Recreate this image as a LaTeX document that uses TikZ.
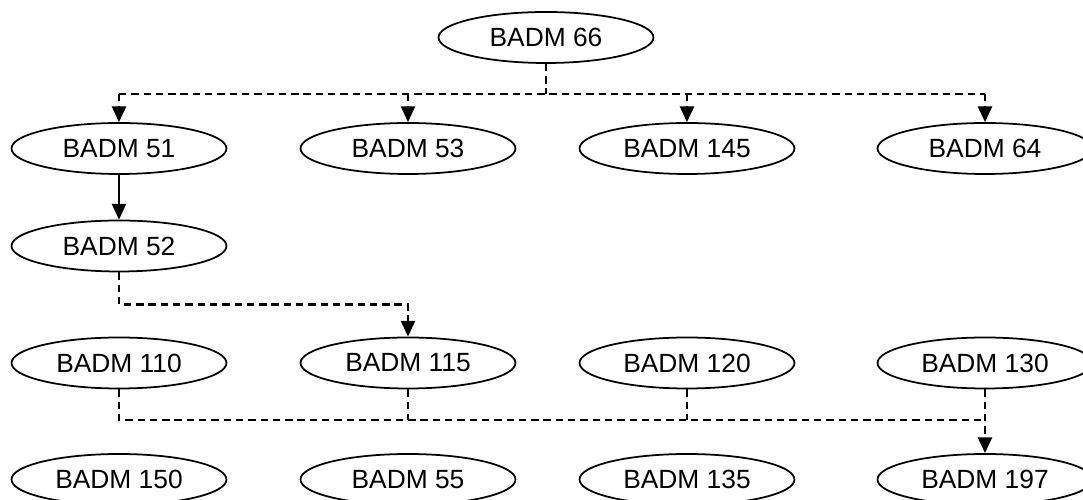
\documentclass[tikz,border=0pt]{standalone}
\usepackage{fontspec}
\setmainfont{Liberation Sans}
\usetikzlibrary{shapes.geometric,arrows.meta}

\begin{document}
\begin{tikzpicture}[x=0.02cm, y=0.02cm,
  course/.style = {draw, ellipse, line width=1pt, minimum width=4.3cm,
    minimum height=1.02cm, inner sep=0pt, font=\fontsize{15}{18}\selectfont},
  dashline/.style = {line width=1.4pt, dash pattern=on 4.2pt off 2.8pt},
  arrowline/.style = {line width=1.3pt, -{Triangle[length=9pt, width=8pt]}}]
  \useasboundingbox (0,0) rectangle (1083,500);
  % top
  \node[course] (b66) at (546,462.5) {BADM 66};
  % first row and BADM 52
  \node[course] (b51) at (119,351.5) {BADM 51};
  \node[course] (b53) at (408,351.5) {BADM 53};
  \node[course] (b145) at (687,351.5) {BADM 145};
  \node[course] (b64) at (985,351.5) {BADM 64};
  \node[course] (b52) at (119,254) {BADM 52};
  % lower rows
  \node[course] (b110) at (119,137) {BADM 110};
  \node[course] (b115) at (408,137) {BADM 115};
  \node[course] (b120) at (687,137) {BADM 120};
  \node[course] (b130) at (985,137) {BADM 130};
  \node[course] (b150) at (119,20.5) {BADM 150};
  \node[course] (b55) at (408,20.5) {BADM 55};
  \node[course] (b135) at (687,20.5) {BADM 135};
  \node[course] (b197) at (985,20.5) {BADM 197};

  \coordinate (split) at (b66.south |- 0,406);
  \coordinate (merge) at (b197.north |- 0,80);
  \draw[dashline] (b66.south) -- (split);
  \draw[dashline] (b51.north |- split) -- (b64.north |- split);
  \foreach \c in {b51,b53,b145,b64}
    \draw[arrowline, dashline] (\c.north |- split) -- (\c.north);

  \draw[arrowline] (b51) -- (b52);
  \draw[arrowline, dashline] (b52.south) -- ++(0,-32) -| (b115.north);

  \draw[dashline] (b110.south) -- (b110.south |- merge) -- (merge);
  \foreach \c in {b115,b120}
    \draw[dashline] (\c.south) -- (\c.south |- merge);
  \draw[arrowline, dashline] (b130.south) -- (b197.north);
\end{tikzpicture}
\end{document}
